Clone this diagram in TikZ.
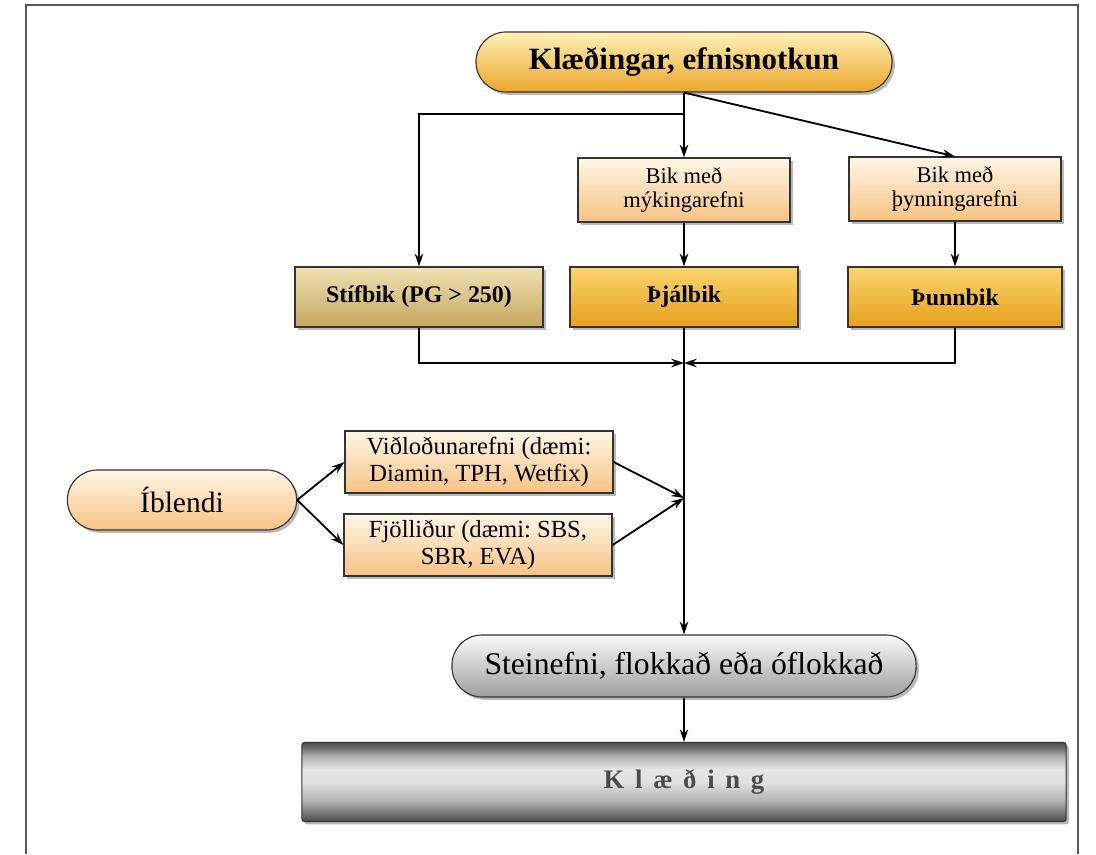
\documentclass[tikz,border=0pt]{standalone}
\usepackage{fontspec}
\setmainfont{Liberation Serif}
\usepackage{xcolor}
\usepackage{tikz}
\usetikzlibrary{arrows.meta,shadows}
\frenchspacing

\definecolor{peachT}{HTML}{FFF6E6}
\definecolor{peachB}{HTML}{F7C283}
\definecolor{goldT}{HTML}{FBD46E}
\definecolor{goldB}{HTML}{E6A01C}
\definecolor{titleT}{HTML}{FFF1B8}
\definecolor{titleB}{HTML}{EAA62A}
\definecolor{tanT}{HTML}{F0E2B2}
\definecolor{tanB}{HTML}{C4A660}
\definecolor{stoneT}{HTML}{FAFAFA}
\definecolor{stoneB}{HTML}{9E9E9E}
\definecolor{framec}{HTML}{5A5A5A}

% cylinder look for the bottom bar
\pgfdeclareverticalshading{coat}{100bp}{color(0bp)=(black!72); color(25bp)=(black!72);
  color(30bp)=(black!55); color(38bp)=(black!30); color(50bp)=(black!12);
  color(58bp)=(black!10); color(66bp)=(black!30); color(71bp)=(black!55);
  color(75bp)=(black!70); color(100bp)=(black!70)}

\begin{document}
\begin{tikzpicture}[
    x=0.025cm, y=-0.025cm,
    >={Stealth[length=9pt,width=6pt]},
    base/.style={draw=black!80, line width=0.8pt, align=center, inner sep=2pt,
        drop shadow={opacity=0.55, shadow xshift=2pt, shadow yshift=-2pt}},
    pill/.style={base, rounded corners=0.75cm, minimum height=1.5cm},
    sub/.style={base, rectangle, minimum width=5.3cm, minimum height=1.6cm, font=\fontsize{16}{17}\selectfont, top color=peachT, bottom color=peachB},
    bitumen/.style={base, rectangle, minimum height=1.5cm, font=\bfseries\fontsize{17}{20}\selectfont, top color=goldT, bottom color=goldB},
    agent/.style={base, rectangle, minimum width=6.7cm, minimum height=1.55cm, font=\fontsize{17.5}{19}\selectfont, top color=peachT, bottom color=peachB},
    arrow/.style={->, line width=1.3pt}
]
\useasboundingbox (0,0) rectangle (1096,854);
\draw[framec, line width=1.5pt] (26,854) -- (26,5) -- (1078,5) -- (1078,854);

\node[pill, minimum width=10.4cm, top color=titleT, bottom color=titleB, font=\bfseries\fontsize{22}{24}\selectfont] (title) at (684,62) {Klæðingar, efnisnotkun};

\node[sub] (bmyk) at (684,190) {Bik með\\mýkingarefni};
\node[sub] (bthin) at (955,189) {Bik með\\þynningarefni};

\node[bitumen, minimum width=6.2cm, top color=tanT, bottom color=tanB] (stif) at (419,297) {Stífbik (PG > 250)};
\node[bitumen, minimum width=5.7cm] (thjal) at (684,297) {Þjálbik};
\node[bitumen, minimum width=5.35cm] (thunn) at (955,297) {Þunnbik};

\node[pill, minimum width=5.73cm, top color=peachT, bottom color=peachB, font=\fontsize{21}{23}\selectfont] (ibl) at (182,500) {Íblendi};
\node[agent] (vid) at (479,462) {Viðloðunarefni (dæmi:\\Diamin, TPH, Wetfix)};
\node[agent] (fjol) at (478,545) {Fjölliður (dæmi: SBS,\\SBR, EVA)};

\node[pill, minimum width=11.6cm, minimum height=1.55cm, top color=stoneT, bottom color=stoneB, font=\fontsize{22.5}{24}\selectfont] (stein) at (684,666) {Steinefni, flokkað eða óflokkað};
\node[base, rectangle, rounded corners=2pt, minimum width=19.1cm, minimum height=1.98cm, shading=coat, font=\bfseries\fontsize{19}{22}\selectfont\addfontfeature{LetterSpace=40}, text=black!70] (klaed) at (684,782) {Klæðing};

\coordinate (split) at (684,114);
\coordinate (merge) at (684,363);
\coordinate (join) at (684,498);

\draw[arrow] (title) -- (bmyk);
\draw[arrow] (split) -| (stif);
\draw[arrow] (title.south) -- (bthin.north);
\draw[arrow] (bmyk) -- (thjal);
\draw[arrow] (bthin) -- (thunn);
\draw[arrow] (stif.south) |- (merge);
\draw[arrow] (thunn.south) |- (merge);
\draw[arrow] (thjal) -- (stein);
\draw[arrow] (ibl.east) -- (vid.west);
\draw[arrow] (ibl.east) -- (fjol.west);
\draw[arrow] (vid.east) -- (join);
\draw[arrow] (fjol.east) -- (join);
\draw[arrow] (stein) -- (klaed);
\end{tikzpicture}
\end{document}
